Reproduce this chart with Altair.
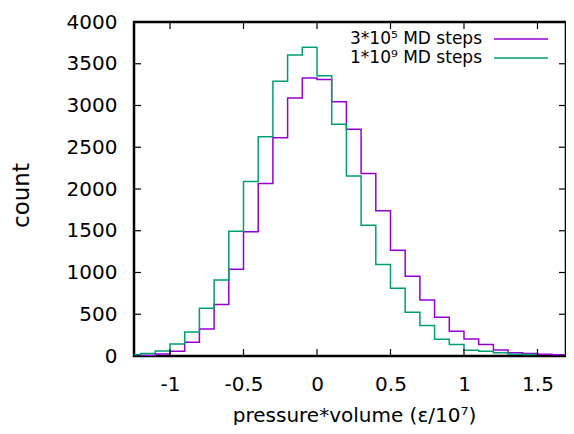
import altair as alt
import pandas as pd

# ---- data ----
x_ticks = [-1, -0.5, 0, 0.5, 1, 1.5]
y_ticks = [0, 500, 1000, 1500, 2000, 2500, 3000, 3500, 4000]

label_a = "3*10\u2075 MD steps"
label_b = "1*10\u2079 MD steps"

# bin edges (left edges + final right edge)
edges_a = [-1.3, -1.2, -1.1, -1.0, -0.9, -0.8, -0.7, -0.6, -0.5, -0.4, -0.3, -0.2, -0.1, 0.0,
           0.1, 0.2, 0.3, 0.4, 0.5, 0.6, 0.7, 0.8, 0.9, 1.0, 1.1, 1.2, 1.3, 1.4, 1.5, 1.6, 1.7]
counts_a = [2, 5, 25, 58, 164, 324, 616, 1040, 1487, 2067, 2614, 3090, 3330, 3310,
            3046, 2715, 2187, 1739, 1267, 956, 672, 464, 296, 204, 137, 72, 40, 30, 22, 15]

edges_b = [-1.3, -1.2, -1.1, -1.0, -0.9, -0.8, -0.7, -0.6, -0.5, -0.4, -0.3, -0.2, -0.1, 0.0,
           0.1, 0.2, 0.3, 0.4, 0.5, 0.6, 0.7, 0.8, 0.9, 1.0, 1.1, 1.2, 1.3, 1.4, 1.5]
counts_b = [15, 30, 60, 145, 288, 572, 911, 1495, 2091, 2626, 3290, 3606, 3698, 3357,
            2775, 2155, 1567, 1096, 812, 524, 364, 200, 137, 68, 56, 40, 20, 18]

color_a = "#9400D3"
color_b = "#009E73"
FONT = "DejaVu Sans"
FS = 20

df_a = pd.DataFrame({"x": edges_a, "y": counts_a + [counts_a[-1]]})
df_b = pd.DataFrame({"x": edges_b, "y": counts_b + [counts_b[-1]]})
df_xt = pd.DataFrame({"v": x_ticks})
df_yt = pd.DataFrame({"v": y_ticks})

W, H = 432, 334
x_scale = alt.Scale(domain=[-1.245, 1.694], nice=False, zero=False)
y_scale = alt.Scale(domain=[0, 4000], nice=False)

x_axis = alt.Axis(values=x_ticks, labelExpr="'' + datum.value", ticks=False, domain=False,
                  grid=False, labelFlush=False, labelOverlap=False, labelPadding=18,
                  labelFont=FONT, labelFontSize=FS, labelColor="black",
                  title="pressure*volume (\u03b5/10\u2077)", titleFont=FONT, titleFontSize=FS,
                  titleFontWeight="normal", titleColor="black",
                  titleBaseline="alphabetic", titleY=65, titleX=220)
y_axis = alt.Axis(values=y_ticks, labelExpr="'' + datum.value", ticks=False, domain=False,
                  grid=False, labelFlush=False, labelOverlap=False, labelPadding=17,
                  labelFont=FONT, labelFontSize=FS, labelColor="black",
                  title="count", titleFont=FONT, titleFontSize=23,
                  titleFontWeight="normal", titleColor="black",
                  titleAngle=270, titleX=-113, titleY=173, titleAlign="center",
                  titleBaseline="middle")

line_a = alt.Chart(df_a).mark_line(interpolate="step-after", clip=True, color=color_a,
                                   strokeWidth=1.5).encode(
    x=alt.X("x:Q", scale=x_scale, axis=x_axis),
    y=alt.Y("y:Q", scale=y_scale, axis=y_axis),
)
line_b = alt.Chart(df_b).mark_line(interpolate="step-after", clip=True, color=color_b,
                                   strokeWidth=1.5).encode(
    x=alt.X("x:Q", scale=x_scale),
    y=alt.Y("y:Q", scale=y_scale),
)

tick_style = dict(color="black", strokeWidth=1.2)
ticks_left = alt.Chart(df_yt).mark_rule(**tick_style).encode(
    y=alt.Y("v:Q", scale=y_scale), x=alt.value(0), x2=alt.value(7))
ticks_right = alt.Chart(df_yt).mark_rule(**tick_style).encode(
    y=alt.Y("v:Q", scale=y_scale), x=alt.value(W - 7), x2=alt.value(W))
ticks_bottom = alt.Chart(df_xt).mark_rule(**tick_style).encode(
    x=alt.X("v:Q", scale=x_scale), y=alt.value(H), y2=alt.value(H - 7))
ticks_top = alt.Chart(df_xt).mark_rule(**tick_style).encode(
    x=alt.X("v:Q", scale=x_scale), y=alt.value(0), y2=alt.value(7))

leg_df_a = pd.DataFrame({"t": [label_a]})
leg_df_b = pd.DataFrame({"t": [label_b]})
leg_text_a = alt.Chart(leg_df_a).mark_text(align="right", baseline="middle", font=FONT,
                                           fontSize=17, color="black").encode(
    text="t:N", x=alt.value(348), y=alt.value(17))
leg_text_b = alt.Chart(leg_df_b).mark_text(align="right", baseline="middle", font=FONT,
                                           fontSize=17, color="black").encode(
    text="t:N", x=alt.value(348), y=alt.value(36))
leg_line_a = alt.Chart(leg_df_a).mark_rule(color=color_a, strokeWidth=1.5).encode(
    x=alt.value(360), x2=alt.value(414), y=alt.value(17))
leg_line_b = alt.Chart(leg_df_b).mark_rule(color=color_b, strokeWidth=1.5).encode(
    x=alt.value(360), x2=alt.value(414), y=alt.value(36))

chart = alt.layer(
    line_a, line_b, ticks_left, ticks_right, ticks_bottom, ticks_top,
    leg_text_a, leg_text_b, leg_line_a, leg_line_b,
).properties(
    width=W, height=H,
    autosize=alt.AutoSizeParams(type="none"),
    padding={"left": 126, "top": 14, "right": 0, "bottom": 69},
    background="white",
).configure_view(stroke="black", strokeWidth=2.5)

chart.save("out.html", embed_options={"renderer": "svg", "actions": False})
